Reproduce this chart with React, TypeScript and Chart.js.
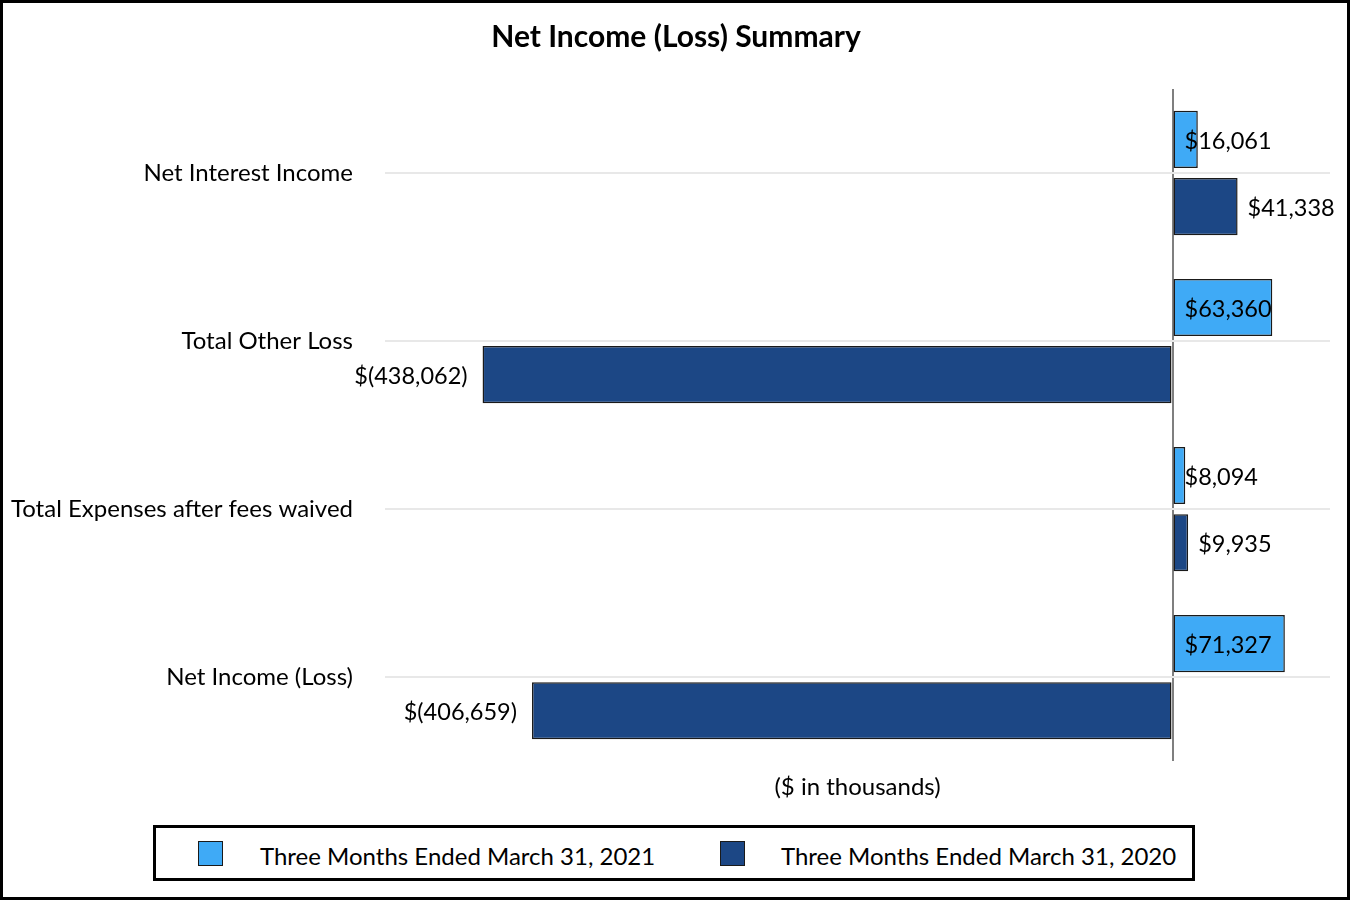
import React, { useEffect, useRef } from "react";
import { Chart, registerables } from "chart.js";

Chart.register(...registerables);

const chartTitle = "Net Income (Loss) Summary";
const categories = [
  "Net Interest Income",
  "Total Other Loss",
  "Total Expenses after fees waived",
  "Net Income (Loss)",
];
const seriesNames = ["Three Months Ended March 31, 2021", "Three Months Ended March 31, 2020"];
const values2021 = [16061, 63360, 8094, 71327];
const values2020 = [41338, -438062, 9935, -406659];
const xMin = -500000;
const xMax = 100000;

const LIGHT = "#3FAAF6";
const DARK = "#1C4785";
const FONT = "Lato, 'Open Sans', sans-serif";

function fmt(v: number): string {
  const s = Math.abs(v).toLocaleString("en-US");
  return v < 0 ? `$(${s})` : `$${s}`;
}

const labelPlugin = {
  id: "barLabels",
  afterDatasetsDraw(chart: any) {
    const ctx = chart.ctx;
    const xScale = chart.scales.x;
    const zeroX = xScale.getPixelForValue(0);
    ctx.save();
    ctx.font = `23.5px ${FONT}`;
    ctx.fillStyle = "#000";
    ctx.textBaseline = "middle";
    chart.data.datasets.forEach((ds: any, di: number) => {
      const meta = chart.getDatasetMeta(di);
      meta.data.forEach((el: any, i: number) => {
        const v = ds.data[i] as number;
        const t = fmt(v);
        if (v < 0) {
          ctx.textAlign = "right";
          ctx.fillText(t, el.x - 15, el.y + 2);
        } else if (di === 0) {
          ctx.textAlign = "left";
          ctx.fillText(t, zeroX + 12, el.y + 2);
        } else {
          ctx.textAlign = "left";
          ctx.fillText(t, el.x + 10, el.y + 2);
        }
      });
    });
    ctx.restore();
  },
};

export default function App() {
  const ref = useRef<HTMLCanvasElement | null>(null);
  useEffect(() => {
    if (!ref.current) return;
    const chart = new Chart(ref.current, {
      type: "bar",
      data: {
        labels: categories,
        datasets: [
          {
            label: seriesNames[0],
            data: values2021,
            backgroundColor: LIGHT,
            borderColor: "#1a1a1a",
            borderWidth: 1.5,
            borderSkipped: false,
            barPercentage: 0.85,
            categoryPercentage: 0.8,
          },
          {
            label: seriesNames[1],
            data: values2020,
            backgroundColor: DARK,
            borderColor: "#1a1a1a",
            borderWidth: 1.5,
            borderSkipped: false,
            barPercentage: 0.85,
            categoryPercentage: 0.8,
          },
        ],
      },
      options: {
        indexAxis: "y",
        animation: false,
        responsive: false,
        maintainAspectRatio: false,
        layout: { padding: { left: 0, right: 20, top: 89, bottom: 8 } },
        plugins: {
          legend: { display: false },
          tooltip: { enabled: false },
          title: { display: false },
        },
        scales: {
          x: {
            min: xMin,
            max: xMax,
            ticks: { display: false, stepSize: 100000 },
            border: { display: false },
            grid: {
              drawTicks: false,
              lineWidth: 2,
              color: (c: any) => (c.tick && c.tick.value === 0 ? "#7f7f7f" : "transparent"),
            },
            title: {
              display: true,
              text: "($ in thousands)",
              color: "#000",
              font: { family: FONT, size: 24 },
              padding: { top: 12, bottom: 0 },
            },
          },
          y: {
            border: { display: false },
            grid: { offset: false, drawTicks: false, color: "#e8e8e8", lineWidth: 2 },
            ticks: {
              color: "#000",
              font: { family: FONT, size: 24 },
              padding: 32,
            },
            afterFit: (s: any) => {
              s.width = 385;
            },
          },
        },
      },
      plugins: [labelPlugin],
    });
    return () => chart.destroy();
  }, []);

  const textStyle: React.CSSProperties = {
    position: "absolute",
    fontFamily: FONT,
    fontSize: 24,
    color: "#000",
    lineHeight: "28px",
    top: 842,
    whiteSpace: "nowrap",
  };
  const sq = (left: number, color: string): React.CSSProperties => ({
    position: "absolute",
    left,
    top: 841,
    width: 25,
    height: 25,
    boxSizing: "border-box",
    background: color,
    border: "1.5px solid #1a1a1a",
  });

  return (
    <div style={{ position: "fixed", left: 0, top: 0, width: 1350, height: 900, background: "#fff" }}>
      <canvas ref={ref} width={1350} height={810} style={{ position: "absolute", left: 0, top: 0, width: 1350, height: 810 }} />
      <div
        style={{
          position: "absolute",
          left: 0,
          top: 17,
          width: 1352,
          textAlign: "center",
          fontFamily: FONT,
          fontWeight: "bold",
          fontSize: 30,
          lineHeight: "36px",
          color: "#000",
        }}
      >
        {chartTitle}
      </div>
      <div
        style={{
          position: "absolute",
          left: 153,
          top: 825,
          width: 1042,
          height: 56,
          boxSizing: "border-box",
          border: "3px solid #000",
        }}
      />
      <div style={sq(198, LIGHT)} />
      <div style={{ ...textStyle, left: 260 }}>{seriesNames[0]}</div>
      <div style={sq(720, DARK)} />
      <div style={{ ...textStyle, left: 781 }}>{seriesNames[1]}</div>
      <div
        style={{
          position: "absolute",
          left: 0,
          top: 0,
          width: 1350,
          height: 900,
          boxSizing: "border-box",
          border: "3px solid #000",
          pointerEvents: "none",
        }}
      />
    </div>
  );
}
